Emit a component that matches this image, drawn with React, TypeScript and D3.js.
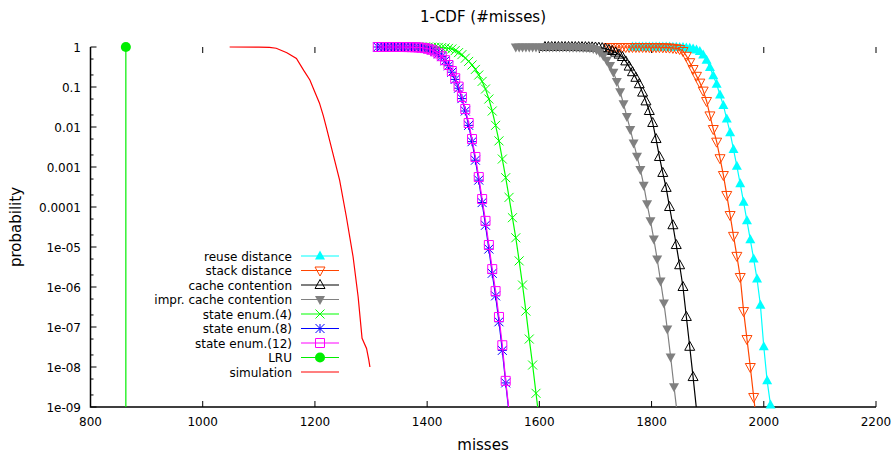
import React, { useRef, useEffect } from 'react';
import * as d3 from 'd3';

// tick values / labels
const xTicks = [800, 1000, 1200, 1400, 1600, 1800, 2000, 2200];
const yTicks = [1, 0.1, 0.01, 0.001, 0.0001, 1e-5, 1e-6, 1e-7, 1e-8, 1e-9];
const yTickLabels = ['1', '0.1', '0.01', '0.001', '0.0001', '1e-05', '1e-06', '1e-07', '1e-08', '1e-09'];

// [misses, probability]
const reuseDistance = [
  [1766, 1], [1772, 1], [1778, 1], [1784, 1], [1790, 1], [1796, 1], [1802, 1], [1808, 1],
  [1814, 0.9977], [1820, 0.9977], [1826, 0.9954], [1832, 0.9931], [1838, 0.9886], [1844, 0.984],
  [1850, 0.9772], [1856, 0.9661], [1862, 0.9506], [1868, 0.9268], [1874, 0.8913], [1880, 0.8414],
  [1886, 0.7762], [1892, 0.631], [1898, 0.4677], [1904, 0.309], [1910, 0.1905], [1916, 0.1175],
  [1922, 0.0631], [1928, 0.0347], [1934, 0.0158], [1940, 7.2e-3], [1946, 2.75e-3], [1952, 1.05e-3],
  [1958, 3.8e-4], [1964, 1.32e-4], [1970, 4.5e-5], [1976, 1.51e-5], [1982, 5.0e-6], [1988, 1.58e-6],
  [1994, 3.5e-7], [2000, 3.2e-8], [2006, 4.5e-9], [2012, 1.12e-9], [2018, 2.5e-10],
];

const stackDistance = [
  [1724, 1], [1730, 1], [1736, 1], [1742, 1], [1748, 1], [1754, 1], [1760, 1], [1766, 1],
  [1772, 1], [1778, 1], [1784, 1], [1790, 0.9977], [1796, 0.9954], [1802, 0.9931], [1808, 0.9908],
  [1814, 0.9886], [1820, 0.984], [1826, 0.9772], [1832, 0.9661], [1838, 0.9506], [1844, 0.9268],
  [1850, 0.8913], [1856, 0.7943], [1862, 0.6026], [1868, 0.4169], [1874, 0.2818], [1880, 0.1905],
  [1886, 0.1288], [1892, 0.0813], [1898, 0.0447], [1904, 0.0195], [1910, 8.9e-3], [1916, 4.3e-3],
  [1922, 1.66e-3], [1928, 6.3e-4], [1934, 2.0e-4], [1940, 6.3e-5], [1946, 1.9e-5], [1952, 6.0e-6],
  [1958, 1.78e-6], [1964, 2.5e-7], [1970, 5.0e-8], [1976, 1.0e-8], [1982, 1.78e-9], [1988, 3.2e-10],
];

const cacheContention = [
  [1610, 1], [1616, 1], [1622, 1], [1628, 1], [1634, 1], [1640, 1], [1646, 1], [1652, 1], [1658, 1],
  [1664, 0.9977], [1670, 0.9977], [1676, 0.9954], [1682, 0.9931], [1688, 0.9886], [1694, 0.9817],
  [1700, 0.9727], [1706, 0.9594], [1712, 0.9376], [1718, 0.9016], [1724, 0.8511], [1730, 0.7943],
  [1736, 0.7244], [1742, 0.6457], [1748, 0.5623], [1754, 0.4365], [1760, 0.3236], [1766, 0.2344],
  [1772, 0.1698], [1778, 0.1175], [1784, 0.0724], [1790, 0.0437], [1796, 0.0251], [1802, 0.0126],
  [1808, 5.0e-3], [1814, 1.78e-3], [1820, 7.1e-4], [1826, 3.0e-4], [1832, 1.0e-4], [1838, 3.5e-5],
  [1844, 1.12e-5], [1850, 3.5e-6], [1856, 1.0e-6], [1862, 1.78e-7], [1868, 3.2e-8], [1874, 5.6e-9],
  [1880, 8.9e-10],
];

const imprCacheContention = [
  [1558, 1], [1564, 1], [1570, 1], [1576, 1], [1582, 1], [1588, 1], [1594, 1], [1600, 1], [1606, 1],
  [1612, 1], [1618, 1], [1624, 0.9977], [1630, 0.9977], [1636, 0.9954], [1642, 0.9954], [1648, 0.9931],
  [1654, 0.9908], [1660, 0.9886], [1666, 0.984], [1672, 0.9795], [1678, 0.9727], [1684, 0.9661],
  [1690, 0.955], [1696, 0.9226], [1702, 0.8511], [1708, 0.7413], [1714, 0.6026], [1720, 0.4677],
  [1726, 0.3467], [1732, 0.2344], [1738, 0.138], [1744, 0.0759], [1750, 0.038], [1756, 0.0182],
  [1762, 8.7e-3], [1768, 4.0e-3], [1774, 1.86e-3], [1780, 8.7e-4], [1786, 3.5e-4], [1792, 1.2e-4],
  [1798, 4.5e-5], [1804, 1.58e-5], [1810, 5.0e-6], [1816, 1.41e-6], [1822, 4.0e-7], [1828, 8.9e-8],
  [1834, 1.78e-8], [1840, 3.2e-9], [1846, 6.3e-10],
];

const stateEnum4 = [
  [1330, 1], [1336, 1], [1342, 1], [1348, 1], [1354, 1], [1360, 1], [1366, 1], [1372, 1], [1378, 1],
  [1384, 1], [1390, 1], [1396, 0.9977], [1402, 0.9954], [1408, 0.9908], [1414, 0.9863], [1420, 0.9795],
  [1426, 0.9683], [1432, 0.9506], [1438, 0.9226], [1444, 0.8913], [1450, 0.8128], [1456, 0.7244],
  [1462, 0.6457], [1468, 0.5248], [1474, 0.4365], [1480, 0.3548], [1486, 0.2754], [1492, 0.1995],
  [1498, 0.138], [1504, 0.0891], [1510, 0.0501], [1516, 0.0251], [1522, 0.011], [1528, 4.5e-3],
  [1534, 1.58e-3], [1540, 5.4e-4], [1546, 1.74e-4], [1552, 5.4e-5], [1558, 1.7e-5], [1564, 4.5e-6],
  [1570, 1.12e-6], [1576, 2.5e-7], [1582, 5.0e-8], [1588, 1.12e-8], [1594, 2.2e-9], [1600, 4.5e-10],
];

const stateEnum8 = [
  [1312, 1], [1318, 1], [1324, 1], [1330, 1], [1336, 1], [1342, 1], [1348, 1], [1354, 1],
  [1360, 0.9977], [1366, 0.9954], [1372, 0.9908], [1378, 0.984], [1384, 0.9727], [1390, 0.9572],
  [1396, 0.9333], [1402, 0.8974], [1408, 0.8453], [1414, 0.7674], [1420, 0.6761], [1426, 0.5754],
  [1432, 0.4519], [1438, 0.3388], [1444, 0.2344], [1450, 0.1549], [1456, 0.0933], [1462, 0.0513],
  [1468, 0.0251], [1474, 0.011], [1480, 4.3e-3], [1486, 1.48e-3], [1492, 4.7e-4], [1498, 1.29e-4],
  [1504, 3.5e-5], [1510, 8.9e-6], [1516, 2.2e-6], [1522, 6.0e-7], [1528, 1.35e-7], [1534, 2.6e-8],
  [1540, 4.0e-9], [1546, 7.0e-10],
];

const stateEnum12 = [
  [1312, 1], [1318, 1], [1324, 1], [1330, 1], [1336, 1], [1342, 1], [1348, 1], [1354, 1],
  [1360, 0.9977], [1366, 0.9954], [1372, 0.9908], [1378, 0.984], [1384, 0.975], [1390, 0.9594],
  [1396, 0.9376], [1402, 0.9016], [1408, 0.8511], [1414, 0.7762], [1420, 0.6918], [1426, 0.5888],
  [1432, 0.4677], [1438, 0.3548], [1444, 0.2512], [1450, 0.166], [1456, 0.1023], [1462, 0.0562],
  [1468, 0.0282], [1474, 0.0126], [1480, 5.0e-3], [1486, 1.78e-3], [1492, 5.6e-4], [1498, 1.58e-4],
  [1504, 4.5e-5], [1510, 1.12e-5], [1516, 2.8e-6], [1522, 7.9e-7], [1528, 1.78e-7], [1534, 3.5e-8],
  [1540, 4.5e-9], [1546, 8.0e-10],
];

const lru = [[863, 1], [863, 1e-12]];

const simulation = [
  [1048, 1], [1100, 0.998], [1119, 0.98], [1131, 0.93], [1150, 0.72], [1167, 0.52], [1180, 0.26],
  [1191, 0.15], [1200, 0.074], [1208, 0.04], [1215, 0.019], [1220, 0.0102], [1232, 2.2e-3],
  [1244, 4.7e-4], [1256, 5.7e-5], [1268, 5.7e-6], [1277, 5.7e-7], [1284, 5.2e-8], [1292, 2.9e-8],
  [1296, 1.5e-8], [1298, 1e-8],
];

const series = [
  { name: 'reuse distance', data: reuseDistance, color: '#00ffff', marker: 'triUpFilled' },
  { name: 'stack distance', data: stackDistance, color: '#ff4500', marker: 'triDown' },
  { name: 'cache contention', data: cacheContention, color: '#000000', marker: 'triUp' },
  { name: 'impr. cache contention', data: imprCacheContention, color: '#808080', marker: 'triDownFilled' },
  { name: 'state enum.(4)', data: stateEnum4, color: '#00ff00', marker: 'cross' },
  { name: 'state enum.(8)', data: stateEnum8, color: '#0000ff', marker: 'star' },
  { name: 'state enum.(12)', data: stateEnum12, color: '#ff00ff', marker: 'square' },
  { name: 'LRU', data: lru, color: '#00ee00', marker: 'circle' },
  { name: 'simulation', data: simulation, color: '#ff0000', marker: 'dot' },
];

const markerPath = (type: string) => {
  const r = 4.5;
  switch (type) {
    case 'triUp':
    case 'triUpFilled':
      return `M0,${-5.5}L5,3.5L-5,3.5Z`;
    case 'triDown':
    case 'triDownFilled':
      return `M0,5.5L5,-3.5L-5,-3.5Z`;
    case 'square':
      return `M${-r},${-r}h${2 * r}v${2 * r}h${-2 * r}Z`;
    case 'cross':
      return `M${-r},${-r}L${r},${r}M${-r},${r}L${r},${-r}`;
    case 'star':
      return `M${-r},${-r}L${r},${r}M${-r},${r}L${r},${-r}M0,${-r}V${r}M${-r},0H${r}`;
    case 'circle':
      return d3.symbol(d3.symbolCircle, 80)();
    default:
      return 'M-0.5,-0.5h1v1h-1Z';
  }
};

const isFilled = (type: string) =>
  type === 'triUpFilled' || type === 'triDownFilled' || type === 'circle' || type === 'dot';

const App = () => {
  const svgRef = useRef(null);

  useEffect(() => {
    const svg = d3.select(svgRef.current);
    svg.selectAll('*').remove();

    const left = 90.5, right = 876, top = 47, bottom = 407;
    const font = 'DejaVu Sans, sans-serif';

    const x = d3.scaleLinear().domain([800, 2200]).range([left, right]);
    const y = d3.scaleLog().domain([1e-9, 1]).range([bottom, top]);

    svg.append('defs').append('clipPath').attr('id', 'plotclip')
      .append('rect').attr('x', left).attr('y', top - 1)
      .attr('width', right - left).attr('height', bottom - top + 1);

    // minor y ticks (2 and 5 in each decade)
    const minor = [];
    yTicks.slice(0, -1).forEach(t => { minor.push(t * 0.5); minor.push(t * 0.2); });

    const axes = svg.append('g').attr('stroke', '#000').attr('stroke-width', 1);
    yTicks.forEach(t => {
      axes.append('line').attr('x1', left).attr('x2', left + 6).attr('y1', y(t)).attr('y2', y(t));
    });
    minor.forEach(t => {
      axes.append('line').attr('x1', left).attr('x2', left + 3).attr('y1', y(t)).attr('y2', y(t));
    });
    xTicks.forEach(t => {
      axes.append('line').attr('x1', x(t)).attr('x2', x(t)).attr('y1', bottom).attr('y2', bottom - 6);
      axes.append('line').attr('x1', x(t)).attr('x2', x(t)).attr('y1', top).attr('y2', top + 6);
    });
    svg.append('path')
      .attr('d', `M${left},${top}V${bottom}H${right}`)
      .attr('fill', 'none').attr('stroke', '#000').attr('stroke-width', 1.5);

    // tick labels
    yTicks.forEach((t, i) => {
      svg.append('text').attr('x', 81).attr('y', y(t) + 4.5)
        .attr('text-anchor', 'end').attr('font-family', font).attr('font-size', 12)
        .attr('fill', '#000').text(yTickLabels[i]);
    });
    xTicks.forEach(t => {
      svg.append('text').attr('x', x(t)).attr('y', 426)
        .attr('text-anchor', 'middle').attr('font-family', font).attr('font-size', 12)
        .attr('fill', '#000').text(String(t));
    });

    svg.append('text').attr('x', 483).attr('y', 22).attr('text-anchor', 'middle')
      .attr('font-family', font).attr('font-size', 15).text('1-CDF (#misses)');
    svg.append('text').attr('x', 483).attr('y', 450).attr('text-anchor', 'middle')
      .attr('font-family', font).attr('font-size', 15).text('misses');
    svg.append('text').attr('transform', 'translate(21,227) rotate(-90)').attr('text-anchor', 'middle')
      .attr('font-family', font).attr('font-size', 15).text('probability');

    const line = d3.line()
      .x(d => x(d[0]))
      .y(d => y(Math.max(d[1], 1e-12)));

    const drawMarker = (g, type, color, cx, cy) => {
      const filled = isFilled(type);
      g.append('path')
        .attr('d', markerPath(type))
        .attr('transform', `translate(${cx},${cy})`)
        .attr('fill', filled ? color : 'none')
        .attr('stroke', filled ? 'none' : color)
        .attr('stroke-width', 1);
    };

    series.forEach((s, i) => {
      const g = svg.append('g');
      g.append('path')
        .datum(s.data)
        .attr('clip-path', 'url(#plotclip)')
        .attr('fill', 'none')
        .attr('stroke', s.color)
        .attr('stroke-width', 1.2)
        .attr('d', line);
      if (s.marker !== 'dot') {
        s.data.filter(d => d[1] >= 1e-9 && d[1] <= 1).forEach(d => {
          drawMarker(g, s.marker, s.color, x(d[0]), y(d[1]));
        });
      }

      // legend entry
      const ly = 256 + i * 14.5;
      svg.append('text').attr('x', 292).attr('y', ly + 4.5)
        .attr('text-anchor', 'end').attr('font-family', font).attr('font-size', 12)
        .attr('fill', '#000').text(s.name);
      svg.append('line').attr('x1', 301).attr('x2', 339).attr('y1', ly).attr('y2', ly)
        .attr('stroke', s.color).attr('stroke-width', 1.2);
      if (s.marker !== 'dot') drawMarker(svg, s.marker, s.color, 320, ly);
    });
  }, []);

  return (
    <svg ref={svgRef} width={896} height={457}
      style={{ position: 'absolute', left: 0, top: 0, background: '#fff' }} />
  );
};

export default App;
